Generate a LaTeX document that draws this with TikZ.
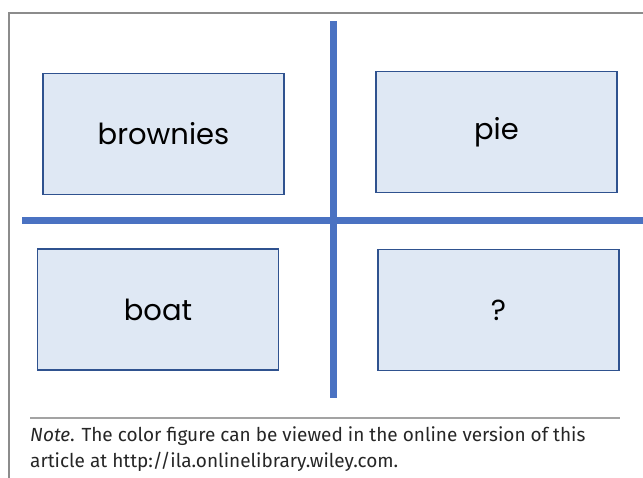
\documentclass[tikz,border=0pt]{standalone}
\usepackage{fontspec}
\newfontfamily\gothic{Poppins}
\newfontfamily\notefont{Fira Sans}
\definecolor{barblue}{HTML}{4A72C2}
\definecolor{boxfill}{HTML}{DFE8F4}
\definecolor{boxline}{HTML}{2F528F}
\definecolor{framegray}{HTML}{8C8C8C}
\begin{document}
\begin{tikzpicture}[x=1pt,y=-1pt,
        card/.style={draw=boxline,fill=boxfill,line width=1.8pt,
            minimum width=241pt,minimum height=121pt,inner sep=0pt,
            font=\gothic\fontsize{29}{34}\selectfont},
        bar/.style={barblue,line width=7pt},
        notetext/.style={anchor=north west,inner sep=0pt,align=left,
            font=\notefont\fontsize{19}{26}\selectfont,text=black!85}]
\useasboundingbox (0,0) rectangle (643,478);

% frame
\draw[framegray,line width=1.2pt] (9,478) -- (9,13) -- (643,13);

% cross
\draw[bar] (22,221) -- (643,221);
\draw[bar] (333,21) -- (333,398);

% cards
\node[card] (brownies) at (163.5,134) {brownies};
\node[card] (pie) at (496.5,132) {pie};
\node[card] (boat) at (158,309.5) {boat};
\node[card] (unknown) at (498.5,310) {?};

% note
\draw[framegray!80,line width=1.2pt] (30,418) -- (620,418);
\node[notetext] (note) at (30,426) {\emph{Note}. The color figure can be viewed in the online version of this\\
article at http://ila.onlinelibrary.wiley.com.};

\end{tikzpicture}
\end{document}
